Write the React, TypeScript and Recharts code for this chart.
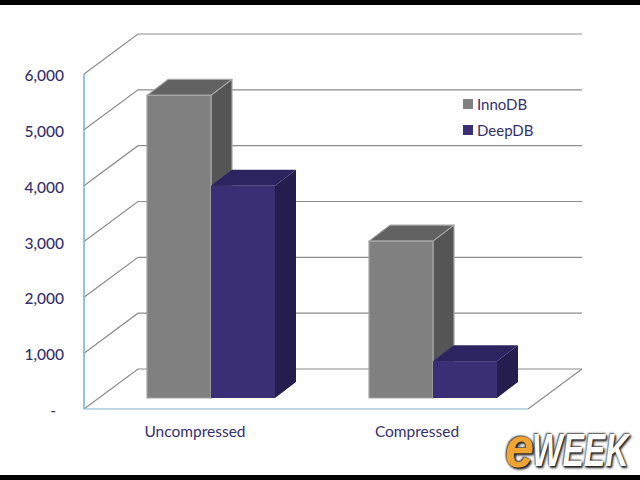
import { BarChart, Bar, XAxis, YAxis, CartesianGrid, Legend } from "recharts";

const categories = ["Uncompressed", "Compressed"];
const innoDB = [5420, 2810];
const deepDB = [3800, 660];
const yTicks = [0, 1000, 2000, 3000, 4000, 5000, 6000];

const data = categories.map((name, i) => ({ name, innoDB: innoDB[i], deepDB: deepDB[i] }));

const NAVY = "#35306b";
const FONT = "Lato, 'Open Sans', sans-serif";

// floor/wall depth of the fake 3D box, and where the bars sit inside it
const WALL_DX = 54;
const WALL_DY = -40;
const BAR_DX = 16;
const BAR_DY = -11;
const DEPTH_DX = 21;
const DEPTH_DY = -16;

function Bar3D(props: any) {
  const { x, y, width, height, fill, topFill, sideFill, edge } = props;
  const l = x + BAR_DX;
  const r = l + width;
  const t = y + BAR_DY;
  const b = t + height;
  return (
    <g stroke={edge} strokeWidth={1.2} strokeLinejoin="round">
      <polygon
        points={`${l},${t} ${r},${t} ${r + DEPTH_DX},${t + DEPTH_DY} ${l + DEPTH_DX},${t + DEPTH_DY}`}
        fill={topFill}
      />
      <polygon
        points={`${r},${t} ${r + DEPTH_DX},${t + DEPTH_DY} ${r + DEPTH_DX},${b + DEPTH_DY} ${r},${b}`}
        fill={sideFill}
      />
      <rect x={l} y={t} width={width} height={height} fill={fill} />
    </g>
  );
}

function GridLine(props: any) {
  const { x1, x2, y1, index } = props;
  const line = { stroke: "#8c8c8c", strokeWidth: 1.2, fill: "none" };
  return (
    <g>
      <polyline
        {...line}
        points={`${x1},${y1} ${x1 + WALL_DX},${y1 + WALL_DY} ${x2 + WALL_DX},${y1 + WALL_DY}`}
      />
      {index === 0 && y1 > 300 ? (
        <line {...line} x1={x2} y1={y1} x2={x2 + WALL_DX} y2={y1 + WALL_DY} />
      ) : null}
    </g>
  );
}

function YTick(props: any) {
  const { x, y, payload } = props;
  const zero = payload.value === 0;
  return (
    <text
      x={zero ? x - 8 : x}
      y={y + 7}
      textAnchor="end"
      fontFamily={FONT}
      fontSize={15.5}
      fontWeight={500}
      fill={NAVY}
    >
      {zero ? "-" : payload.value.toLocaleString("en-US")}
    </text>
  );
}

function LegendBox(props: any) {
  const items = props.payload || [];
  return (
    <div style={{ fontFamily: FONT, fontSize: 15, color: NAVY }}>
      {items.map((item: any) => (
        <div key={item.value} style={{ display: "flex", alignItems: "center", height: 26 }}>
          <span style={{ width: 10, height: 10, background: item.color, marginRight: 4 }} />
          {item.value}
        </div>
      ))}
    </div>
  );
}

const logoText = {
  position: "absolute" as const,
  fontFamily: "'Liberation Sans', sans-serif",
  fontWeight: 700,
  fontStyle: "italic",
  whiteSpace: "nowrap" as const,
  transformOrigin: "left top",
  textShadow: "1px 1px 2px #222, -1px -1px 2px #444, 2px 2px 3px #333",
};

export default function App() {
  return (
    <div style={{ position: "absolute", left: 0, top: 0, width: 640, height: 480, background: "#fff", overflow: "hidden" }}>
      <BarChart
        width={640}
        height={480}
        data={data}
        margin={{ top: 74, right: 112, bottom: 0, left: 0 }}
        barSize={64}
        barGap={0}
      >
        <CartesianGrid vertical={false} horizontal={GridLine} />
        <XAxis
          dataKey="name"
          height={71}
          tickLine={false}
          tickMargin={11}
          axisLine={{ stroke: "#a9cbdd", strokeWidth: 1.5 }}
          tick={{ fontFamily: FONT, fontSize: 15.5, fill: NAVY }}
        />
        <YAxis
          width={84}
          domain={[0, 6000]}
          ticks={yTicks}
          interval={0}
          tickLine={false}
          tickMargin={14}
          axisLine={{ stroke: "#6fb0dc", strokeWidth: 1.5 }}
          tick={YTick}
        />
        <Legend
          layout="vertical"
          align="center"
          verticalAlign="middle"
          itemSorter={null}
          wrapperStyle={{ left: 463, top: 91, width: 90 }}
          content={LegendBox}
        />
        <Bar
          dataKey="innoDB"
          name="InnoDB"
          fill="#808080"
          isAnimationActive={false}
          shape={(p: any) => <Bar3D {...p} topFill="#626262" sideFill="#555555" edge="#a6a6a6" />}
        />
        <Bar
          dataKey="deepDB"
          name="DeepDB"
          fill="#3a2e74"
          isAnimationActive={false}
          shape={(p: any) => <Bar3D {...p} topFill="#2c2361" sideFill="#251d4e" edge="none" />}
        />
      </BarChart>
      <div style={{ position: "absolute", left: 0, top: 0, width: 640, height: 5, background: "#000" }} />
      <div style={{ position: "absolute", left: 0, top: 475, width: 640, height: 5, background: "#000" }} />
      <span style={{ ...logoText, left: 505, top: 418, fontSize: 58, lineHeight: "58px", color: "#f2a433", transform: "scaleX(0.9)" }}>e</span>
      <span style={{ ...logoText, left: 532, top: 427, fontSize: 46, lineHeight: "46px", color: "#fff", transform: "scaleX(0.7)" }}>WEEK</span>
    </div>
  );
}
